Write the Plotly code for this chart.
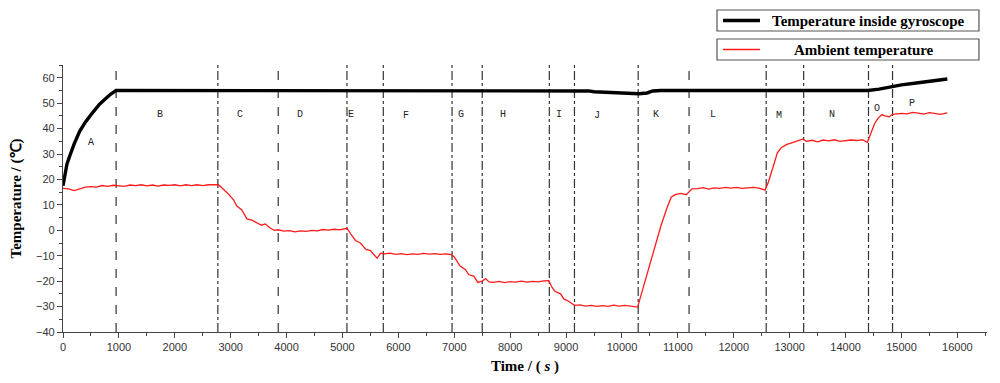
import plotly.graph_objects as go

# ---------------- data ----------------
gyro_t = [0, 30, 70, 125, 200, 300, 400, 520, 650, 750, 850, 950,
          2000, 4000, 6000, 8000, 9300, 9400, 9500, 9700, 10000, 10300,
          10450, 10550, 10700, 12000, 13000, 14400, 14600, 14840, 15000,
          15300, 15600, 15820]
gyro_v = [17.5, 22, 26, 29.5, 34, 39, 42.5, 46, 49.5, 51.5, 53.5, 55,
          55, 55, 55, 55, 55, 54.8, 54.5, 54.2, 54.0, 53.7,
          54.0, 54.8, 55, 55, 55, 55, 55.5, 56.5, 57.2,
          58.0, 58.9, 59.5]

amb_t = [0, 100, 200, 300, 400, 500, 600, 700, 800, 900, 1000, 1100, 1200,
         1300, 1400, 1500, 1600, 1700, 1800, 1900, 2000, 2100, 2200, 2300,
         2400, 2500, 2600, 2700, 2780, 2850, 2950, 3050, 3110, 3200, 3290,
         3380, 3470, 3550, 3620, 3700, 3780, 3850, 3950, 4050, 4150, 4250,
         4350, 4450, 4550, 4650, 4750, 4850, 4950, 5080, 5150, 5230, 5320,
         5420, 5500, 5560, 5620, 5680, 5750, 5850, 5950, 6050, 6150, 6250,
         6350, 6450, 6550, 6650, 6750, 6850, 6950, 7000, 7100, 7200, 7260,
         7350, 7420, 7500, 7560, 7620, 7700, 7800, 7900, 8000, 8100, 8200,
         8300, 8400, 8500, 8600, 8690, 8750, 8800, 8900, 8960, 9050, 9150,
         9250, 9350, 9450, 9550, 9650, 9750, 9850, 9950, 10050, 10150, 10280,
         10400, 10500, 10600, 10700, 10800, 10880, 10950, 11050, 11150, 11250,
         11350, 11450, 11550, 11650, 11750, 11850, 11950, 12050, 12150, 12250,
         12350, 12450, 12560, 12620, 12700, 12780, 12850, 12950, 13050, 13150,
         13230, 13300, 13400, 13500, 13600, 13700, 13800, 13900, 14000, 14100,
         14200, 14300, 14390, 14460, 14520, 14580, 14650, 14700, 14780, 14840,
         14900, 15000, 15100, 15200, 15300, 15400, 15500, 15600, 15700, 15820]
amb_v = [16.5, 16.3, 15.6, 16.2, 17.0, 17.2, 17.0, 17.6, 17.3, 17.7, 17.6, 17.3, 17.8,
         17.6, 17.9, 17.5, 17.8, 17.4, 17.8, 17.7, 17.9, 17.5, 17.9, 17.6,
         17.9, 17.6, 17.9, 17.8, 17.9, 16.5, 14.5, 12.0, 9.5, 8.0, 4.5,
         4.0, 2.8, 2.0, 2.5, 1.0, 0.0, 0.2, -0.3, -0.1, -0.6, -0.2,
         -0.4, 0.0, -0.2, 0.3, 0.1, 0.4, 0.2, 0.8, -1.5, -4.0, -5.0,
         -7.5, -8.0, -9.5, -11.0, -9.0, -9.3, -9.0, -9.5, -9.2, -9.6, -9.3,
         -9.5, -9.1, -9.4, -9.2, -9.5, -9.3, -9.6, -10.5, -14.0, -15.5, -17.5,
         -18.0, -20.5, -20.0, -19.0, -20.3, -20.5, -20.1, -20.6, -20.2, -20.4, -20.0,
         -20.4, -20.1, -20.3, -19.9, -19.8, -22.5, -24.0, -25.0, -27.0, -28.0, -29.5,
         -29.3, -29.8, -29.5, -29.9, -29.6, -29.9, -29.4, -29.8, -29.5, -29.8, -30.2,
         -21.0, -13.0, -5.5, 2.0, 8.5, 13.0, 14.0, 14.5, 14.0, 16.3,
         16.4, 16.8, 16.2, 16.7, 16.5, 16.9, 16.6, 16.9, 16.5, 16.8,
         16.9, 16.6, 15.8, 19.0, 25.0, 30.5, 32.5, 33.8, 34.5, 35.2,
         35.8, 35.0, 35.4, 34.8, 35.5, 35.2, 35.6, 35.0, 35.4, 35.5,
         35.3, 35.6, 34.6, 39.0, 42.0, 44.0, 45.5, 45.0, 44.6, 45.6,
         45.8, 46.0, 45.8, 46.4, 46.1, 45.7, 46.3, 46.0, 45.6, 46.2]

stage_bounds = [950, 2770, 3850, 5080, 5730, 6960, 7500, 8700, 9150, 10290,
                11200, 12580, 13250, 14410, 14840]
stage_dash = ["dash", "dashdot", "dash", "dashdot", "dashdot", "dashdot", "dashdot",
              "dashdot", "dashdot", "dashdot", "dash", "dashdot", "dashdot",
              "dashdot", "dashdot"]

stage_labels = list("ABCDEFGHIJKLMNOP")
label_t = [500, 1740, 3170, 4240, 5150, 6140, 7120, 7880, 8880, 9560, 10600,
           11630, 12800, 13750, 14570, 15180]
label_v = [34.5, 45.5, 45.5, 45.5, 45.5, 45.0, 45.5, 45.5, 45.5, 45.0, 45.5,
           45.5, 45.0, 45.5, 48.0, 50.0]

x_ticks = list(range(0, 16001, 1000))
x_ticktext = [str(v) for v in x_ticks]
y_ticks = list(range(-40, 61, 10))

series_names = ["Temperature inside gyroscope", "Ambient temperature"]
series_colors = ["black", "#ff1a1a"]
series_widths = [3.4, 1.3]

# ---------------- figure ----------------
fig = go.Figure()

fig.add_trace(go.Scatter(
    x=gyro_t, y=gyro_v, mode="lines", name=series_names[0],
    line=dict(color=series_colors[0], width=series_widths[0])))
fig.add_trace(go.Scatter(
    x=amb_t, y=amb_v, mode="lines", name=series_names[1],
    line=dict(color=series_colors[1], width=series_widths[1])))

for xb, ds in zip(stage_bounds, stage_dash):
    fig.add_shape(type="line", xref="x", yref="paper", x0=xb, x1=xb, y0=0, y1=1,
                  line=dict(color="#333333", width=1.2, dash=ds), layer="below")

for lab, lt, lv in zip(stage_labels, label_t, label_v):
    fig.add_annotation(x=lt, y=lv, text=lab, showarrow=False,
                       font=dict(family="Liberation Mono", size=10, color="#222222"))

# ---- two separate framed legend boxes (paper coordinates) ----
legend_box_y = [(1.1273, 1.2060), (1.0187, 1.0974)]
legend_text_x = [0.7652, 0.7890]
for (y0, y1), name, col, w, tx in zip(legend_box_y, series_names, series_colors,
                                      series_widths, legend_text_x):
    fig.add_shape(type="rect", xref="paper", yref="paper", x0=0.7078, x1=0.9913,
                  y0=y0, y1=y1, line=dict(color="#555555", width=1.2),
                  fillcolor="white")
    ym = (y0 + y1) / 2
    fig.add_shape(type="line", xref="paper", yref="paper", x0=0.7143, x1=0.7543,
                  y0=ym, y1=ym, line=dict(color=col, width=w))
    fig.add_annotation(xref="paper", yref="paper", x=tx, y=ym, text="<b>" + name + "</b>",
                       showarrow=False, xanchor="left", yanchor="middle",
                       font=dict(family="Liberation Serif, Times New Roman", size=15,
                                 color="black"))

axis_font = dict(family="Liberation Sans, Arial", size=11, color="#333333")
title_font = dict(family="Liberation Serif, Times New Roman", size=15, color="black")

fig.update_layout(
    width=1000, height=383,
    margin=dict(l=63, r=13, t=65, b=51, autoexpand=False),
    paper_bgcolor="white", plot_bgcolor="white",
    showlegend=False,
    xaxis=dict(range=[0, 16530], tickvals=x_ticks, ticktext=x_ticktext,
               ticks="outside", ticklen=5, automargin=False,
               tickcolor="#444444", showline=True, linecolor="#444444", linewidth=1.2,
               showgrid=False, zeroline=False, tickfont=axis_font,
               minor=dict(dtick=500, tick0=0, ticks="outside", ticklen=3,
                          tickcolor="#444444"),
               title=dict(text="<b>Time / ( <i>s</i> )</b>", font=title_font, standoff=8)),
    yaxis=dict(range=[-40, 65], tickvals=y_ticks, ticks="outside", ticklen=5,
               automargin=False,
               tickcolor="#444444", showline=True, linecolor="#444444", linewidth=1.2,
               showgrid=False, zeroline=False, tickfont=axis_font,
               minor=dict(dtick=5, tick0=0, ticks="outside", ticklen=3,
                          tickcolor="#444444"),
               title=dict(text="<b>Temperature / (℃)</b>", font=title_font, standoff=10)),
)

fig.write_html("out.html", config={"displayModeBar": False},
               post_script="document.body.style.margin='0';")
